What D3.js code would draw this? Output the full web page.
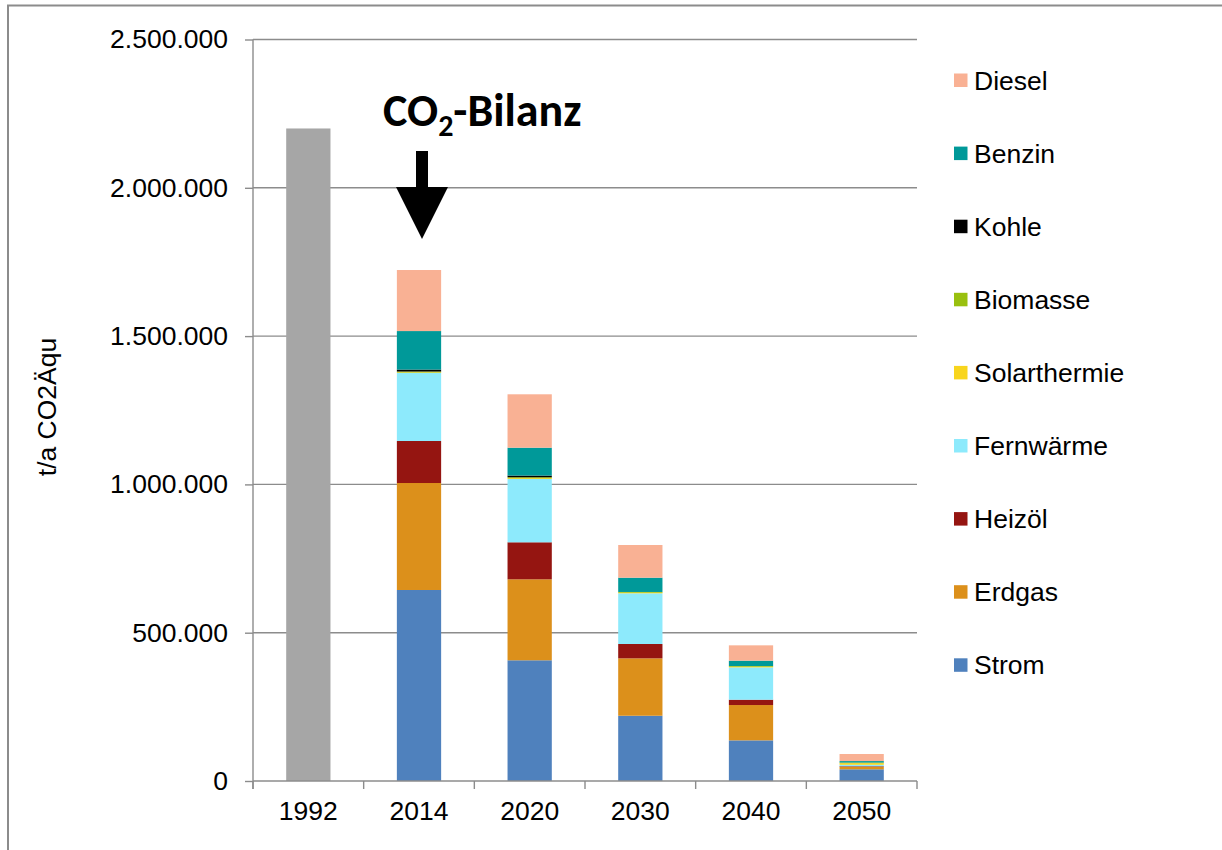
<!DOCTYPE html>
<html><head><meta charset="utf-8">
<script src="https://cdn.jsdelivr.net/npm/d3@7"></script>
<style>
html,body{margin:0;padding:0;background:#fff;}
svg{display:block;}
</style>
</head><body>
<svg id="c" width="1222" height="850"></svg>
<script>
const categories = ["1992","2014","2020","2030","2040","2050"];
const gesamt1992 = [2200000, 0, 0, 0, 0, 0];
const strom        = [0, 644000, 407000, 220000, 137000, 39400];
const erdgas       = [0, 360700, 273000, 193600, 119100, 8800];
const heizoel      = [0, 141600, 124800, 48300, 18000, 1500];
const fernwaerme   = [0, 229300, 213400, 170900, 109000, 5000];
const solarthermie = [0, 2000, 3000, 3500, 3500, 5500];
const biomasse     = [0, 3000, 3000, 1000, 1000, 2000];
const kohle        = [0, 6500, 5500, 0, 0, 0];
const benzin       = [0, 129900, 94100, 48200, 18100, 5000];
const diesel       = [0, 205800, 180000, 110200, 51700, 23800];
const yTicks = [0, 500000, 1000000, 1500000, 2000000, 2500000];
const seriesNames = ["Strom","Erdgas","Heizöl","Fernwärme","Solarthermie","Biomasse","Kohle","Benzin","Diesel"];
const seriesValues = [strom, erdgas, heizoel, fernwaerme, solarthermie, biomasse, kohle, benzin, diesel];
const seriesColors = ["#4f81bd","#dc901b","#951511","#8deafc","#f8d51d","#99c00f","#000000","#009999","#f9b194"];
const legendOrder = ["Diesel","Benzin","Kohle","Biomasse","Solarthermie","Fernwärme","Heizöl","Erdgas","Strom"];

const svg = d3.select("#c");
const font = "'Liberation Sans', Arial, sans-serif";
const de = d3.formatLocale({decimal:",", thousands:".", grouping:[3], currency:["","€"]});
const fmt = de.format(",.0f");

const x = d3.scaleBand().domain(categories).range([253, 917]).paddingInner(0.6).paddingOuter(0.3);
const y = d3.scaleLinear().domain([0, 2500000]).range([781, 39.5]);

// outer frame
svg.append("path").attr("d","M8,850 L8,5.5 L1222,5.5").attr("fill","none").attr("stroke","#8c8c8c").attr("stroke-width",2);

// gridlines
svg.append("g").selectAll("line").data(yTicks.filter(d=>d>0)).join("line")
  .attr("x1",253).attr("x2",917).attr("y1",d=>y(d)).attr("y2",d=>y(d))
  .attr("stroke","#8c8c8c").attr("stroke-width",1.4);

// data table for stacking
const table = categories.map((c,i)=>{
  const o = {cat:c};
  seriesNames.forEach((n,j)=>o[n]=seriesValues[j][i]);
  return o;
});
const stack = d3.stack().keys(seriesNames)(table);

// 1992 total bar
svg.append("g").selectAll("rect").data(categories.map((c,i)=>({cat:c,v:gesamt1992[i]})).filter(d=>d.v>0)).join("rect")
  .attr("x",d=>x(d.cat)).attr("width",x.bandwidth())
  .attr("y",d=>y(d.v)).attr("height",d=>y(0)-y(d.v))
  .attr("fill","#a6a6a6");

// stacked bars
stack.forEach((s,j)=>{
  svg.append("g").selectAll("rect").data(s.filter(d=>d[1]-d[0]>0)).join("rect")
    .attr("x",d=>x(d.data.cat)).attr("width",x.bandwidth())
    .attr("y",d=>y(d[1])).attr("height",d=>Math.max(0.6,y(d[0])-y(d[1])))
    .attr("fill",seriesColors[j]);
});

// y axis
const yAxis = d3.axisLeft(y).tickValues(yTicks).tickFormat(fmt).tickSize(8).tickPadding(17);
const gy = svg.append("g").attr("transform","translate(253,0)").call(yAxis);
gy.select(".domain").attr("d","M0,"+y(2500000)+"V789").attr("stroke","#8c8c8c").attr("stroke-width",1.4);
gy.selectAll(".tick line").attr("stroke","#8c8c8c").attr("stroke-width",1.4);
gy.selectAll("text").attr("font-family",font).attr("font-size",26.5).attr("fill","#000");

// x axis
const xAxis = d3.axisBottom(x).tickSize(0).tickPadding(20);
const gx = svg.append("g").attr("transform","translate(0,781)").call(xAxis);
gx.select(".domain").attr("d","M253,0H917").attr("stroke","#8c8c8c").attr("stroke-width",1.4);
gx.selectAll("text").attr("font-family",font).attr("font-size",26.5).attr("fill","#000");
// category separators
const seps = categories.map(c=>x(c)-x.step()*x.paddingInner()/2).concat([917]);
seps[0]=253;
svg.append("g").selectAll("line").data(seps).join("line")
  .attr("x1",d=>d).attr("x2",d=>d).attr("y1",781).attr("y2",789)
  .attr("stroke","#8c8c8c").attr("stroke-width",1.4);

// y label
svg.append("text").attr("transform","translate(56,407) rotate(-90)")
  .attr("text-anchor","middle").attr("font-family",font).attr("font-size",26.5).text("t/a CO2Äqu");

// legend
const lg = svg.append("g");
legendOrder.forEach((n,i)=>{
  const cy = 80 + i*73.1;
  const j = seriesNames.indexOf(n);
  lg.append("rect").attr("x",954).attr("y",cy-6.5).attr("width",13.5).attr("height",13.5).attr("fill",seriesColors[j]);
  lg.append("text").attr("x",974).attr("y",cy).attr("dy","0.36em")
    .attr("font-family",font).attr("font-size",26.5).text(n);
});

// annotation
const t = svg.append("text").attr("x",383).attr("y",126)
  .attr("font-family","Carlito, Lato, 'Open Sans', sans-serif").attr("font-weight","bold").attr("font-size",46);
t.append("tspan").text("CO");
t.append("tspan").attr("font-size",30).attr("dy",10).text("2");
t.append("tspan").attr("dy",-10).text("-Bilanz");

const ax = 422;
svg.append("path")
  .attr("d",`M${ax-6},151 H${ax+6} V187 H${ax+26} L${ax},239 L${ax-26},187 H${ax-6} Z`)
  .attr("fill","#000");
</script>
</body></html>
